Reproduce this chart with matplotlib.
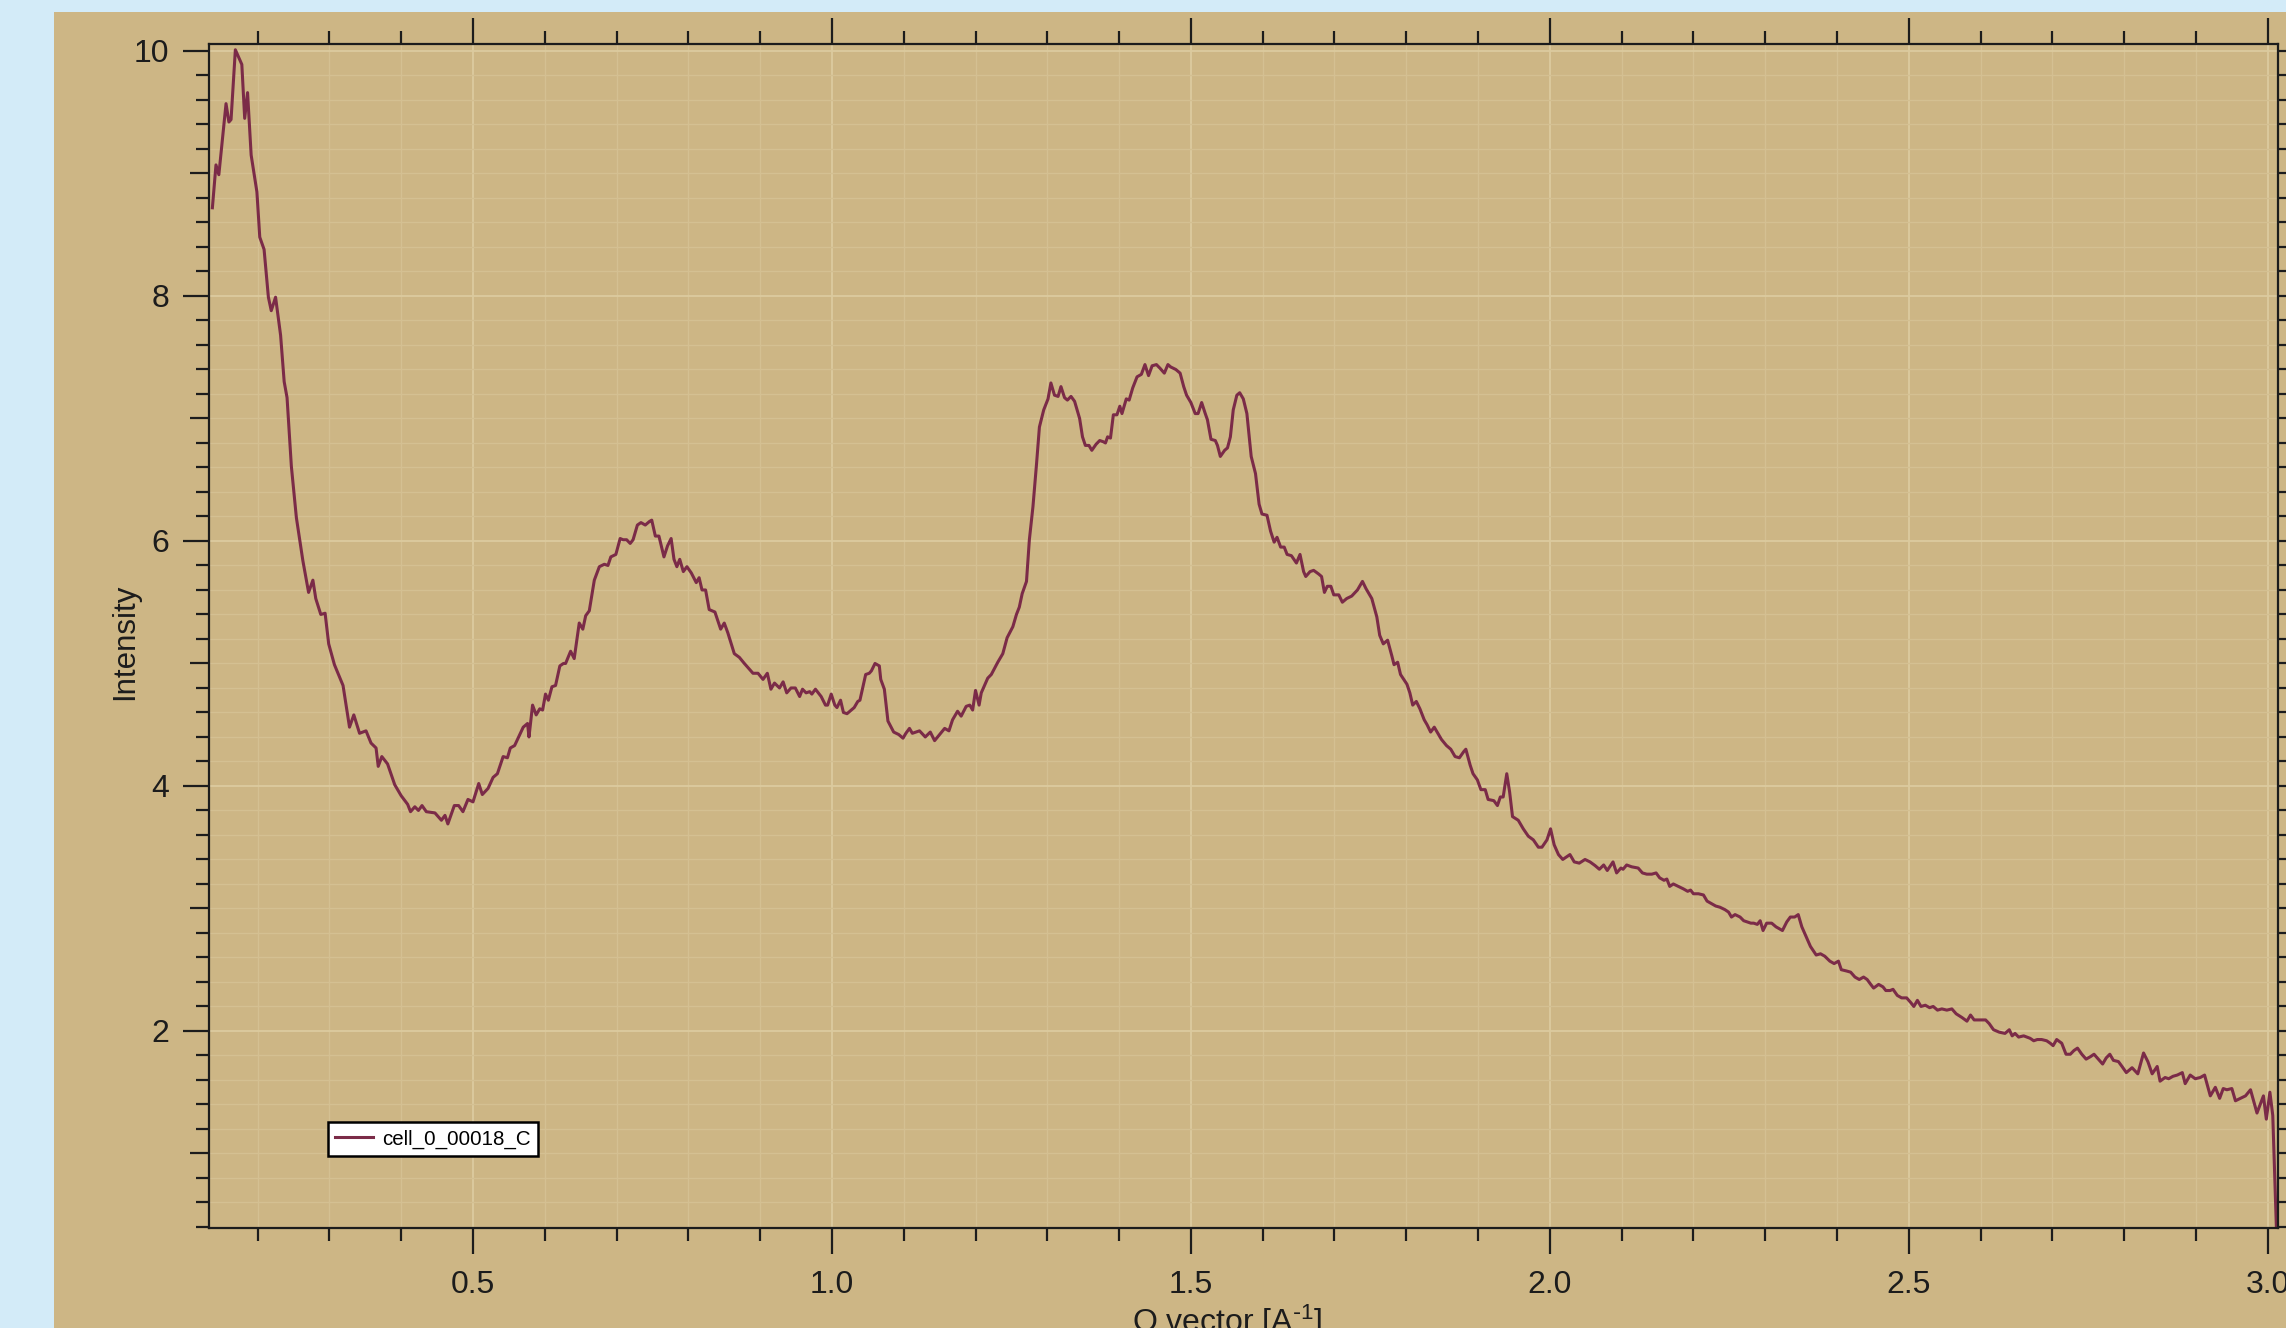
import numpy as np
import matplotlib
matplotlib.use("Agg")
import matplotlib.pyplot as plt
import matplotlib.ticker as ticker
from matplotlib.patches import Rectangle

plt.rcParams['font.family'] = ['Liberation Sans', 'DejaVu Sans']
plt.rcParams['mathtext.default'] = 'regular'

# scattering curve
q_vals = [
    0.137, 0.142, 0.146, 0.156, 0.160, 0.163, 0.169, 0.178, 0.182, 0.186,
    0.191, 0.199, 0.203, 0.209, 0.215, 0.219, 0.225, 0.232, 0.237, 0.241,
    0.247, 0.254, 0.263, 0.271, 0.277, 0.281, 0.288, 0.294, 0.299, 0.307,
    0.319, 0.328, 0.334, 0.342, 0.351, 0.358, 0.365, 0.368, 0.373, 0.381,
    0.391, 0.400, 0.409, 0.413, 0.419, 0.424, 0.429, 0.435, 0.447, 0.456,
    0.461, 0.465, 0.474, 0.480, 0.486, 0.493, 0.500, 0.508, 0.513, 0.521,
    0.528, 0.534, 0.542, 0.548, 0.552, 0.558, 0.570, 0.576, 0.578, 0.583,
    0.588, 0.593, 0.597, 0.601, 0.605, 0.610, 0.615, 0.621, 0.626, 0.629,
    0.636, 0.641, 0.648, 0.653, 0.657, 0.662, 0.669, 0.676, 0.683, 0.688,
    0.692, 0.699, 0.705, 0.709, 0.714, 0.719, 0.723, 0.729, 0.734, 0.740,
    0.746, 0.749, 0.754, 0.759, 0.766, 0.771, 0.776, 0.780, 0.784, 0.788,
    0.793, 0.798, 0.804, 0.811, 0.815, 0.819, 0.824, 0.829, 0.837, 0.845,
    0.850, 0.855, 0.864, 0.871, 0.878, 0.890, 0.897, 0.904, 0.910, 0.915,
    0.920, 0.927, 0.932, 0.937, 0.943, 0.949, 0.955, 0.959, 0.964, 0.969,
    0.972, 0.977, 0.985, 0.991, 0.994, 0.999, 1.004, 1.007, 1.012, 1.016,
    1.021, 1.027, 1.031, 1.036, 1.039, 1.047, 1.052, 1.055, 1.060, 1.066,
    1.068, 1.073, 1.078, 1.086, 1.093, 1.099, 1.103, 1.108, 1.112, 1.122,
    1.130, 1.137, 1.143, 1.150, 1.157, 1.163,
    1.168, 1.175, 1.180, 1.187, 1.192, 1.196, 1.200, 1.205, 1.208, 1.211,
    1.217, 1.222, 1.231, 1.238, 1.244, 1.252, 1.257, 1.261, 1.265, 1.271,
    1.275, 1.280, 1.285, 1.289, 1.295, 1.301, 1.305, 1.310, 1.315, 1.319,
    1.324, 1.328, 1.333, 1.338, 1.345, 1.349, 1.353, 1.358, 1.362, 1.368,
    1.373, 1.378, 1.381, 1.384, 1.388, 1.392, 1.397, 1.401, 1.404, 1.410,
    1.414, 1.419, 1.425, 1.431, 1.436, 1.441, 1.446, 1.452, 1.457, 1.463,
    1.468, 1.472, 1.479, 1.485, 1.490, 1.494, 1.500, 1.506, 1.510, 1.515,
    1.520, 1.523, 1.528, 1.534, 1.537, 1.541, 1.547, 1.551, 1.555, 1.559,
    1.564, 1.568, 1.573, 1.578, 1.584, 1.590, 1.595, 1.599,
    1.606, 1.611, 1.616, 1.620, 1.625, 1.630, 1.634, 1.640, 1.647, 1.652,
    1.657, 1.660, 1.666, 1.671, 1.678, 1.682, 1.686, 1.690, 1.695, 1.699,
    1.706, 1.711, 1.717, 1.724, 1.732, 1.739, 1.744, 1.752, 1.759, 1.763,
    1.768, 1.774, 1.780, 1.783, 1.788, 1.792, 1.801, 1.805, 1.809, 1.814,
    1.819, 1.825, 1.829, 1.834, 1.839, 1.845, 1.849, 1.856, 1.862, 1.868,
    1.874, 1.880, 1.883, 1.889, 1.893, 1.899, 1.904, 1.910, 1.914, 1.922,
    1.927, 1.931, 1.935, 1.940, 1.944, 1.948, 1.956, 1.963, 1.970, 1.977,
    1.984, 1.989, 1.996, 2.001, 2.006, 2.012, 2.018, 2.023, 2.028, 2.034,
    2.041, 2.049, 2.056, 2.063, 2.069, 2.075, 2.080, 2.088, 2.093, 2.099,
    2.102, 2.107, 2.114, 2.123, 2.129, 2.135, 2.142, 2.148, 2.153, 2.159,
    2.163, 2.167, 2.172, 2.179, 2.186, 2.192, 2.196, 2.200, 2.207, 2.214,
    2.219, 2.225, 2.231, 2.237, 2.244, 2.249, 2.253, 2.258, 2.265, 2.270,
    2.275, 2.280, 2.284, 2.289, 2.293, 2.297, 2.302, 2.309, 2.315, 2.321,
    2.324, 2.330, 2.335, 2.341, 2.346, 2.351, 2.357, 2.363, 2.371, 2.377,
    2.383, 2.390, 2.396, 2.402, 2.406, 2.413, 2.419, 2.425, 2.431, 2.437,
    2.442, 2.447, 2.451, 2.458, 2.464, 2.468, 2.474, 2.478, 2.484, 2.490,
    2.497, 2.503, 2.507, 2.512, 2.517, 2.523, 2.529, 2.534, 2.540, 2.546,
    2.553, 2.560, 2.566, 2.574, 2.581, 2.586, 2.591, 2.599, 2.607, 2.612,
    2.618, 2.626, 2.634, 2.640, 2.644, 2.648, 2.653, 2.660, 2.669, 2.674,
    2.679, 2.685, 2.692, 2.697, 2.701, 2.706, 2.713, 2.719, 2.725, 2.730,
    2.735, 2.741, 2.747, 2.753, 2.758, 2.764, 2.770, 2.775, 2.780, 2.785,
    2.792, 2.797, 2.803, 2.811, 2.819, 2.827, 2.833, 2.839, 2.846, 2.850,
    2.857, 2.862, 2.868, 2.874, 2.881, 2.885, 2.892, 2.899, 2.906, 2.912,
    2.920, 2.927, 2.933, 2.938, 2.943, 2.950, 2.955, 2.962, 2.969, 2.976,
    2.985, 2.994, 2.998, 3.003, 3.007, 3.012,
]
intensity = [
    8.72, 9.07, 8.99, 9.57, 9.42, 9.44, 10.01, 9.89, 9.45, 9.66,
    9.15, 8.85, 8.48, 8.38, 7.99, 7.88, 7.99, 7.68, 7.30, 7.17,
    6.61, 6.19, 5.84, 5.58, 5.68, 5.53, 5.40, 5.41, 5.16, 4.99,
    4.82, 4.48, 4.58, 4.43, 4.45, 4.35, 4.31, 4.16, 4.24, 4.18,
    4.01, 3.92, 3.85, 3.79, 3.83, 3.80, 3.84, 3.79, 3.78, 3.72,
    3.76, 3.69, 3.84, 3.84, 3.79, 3.89, 3.87, 4.02, 3.93, 3.98,
    4.07, 4.10, 4.24, 4.23, 4.31, 4.33, 4.48, 4.51, 4.40, 4.66,
    4.58, 4.63, 4.62, 4.75, 4.70, 4.81, 4.82, 4.98, 5.00, 5.00,
    5.10, 5.04, 5.33, 5.28, 5.39, 5.43, 5.68, 5.79, 5.81, 5.80,
    5.87, 5.89, 6.02, 6.01, 6.01, 5.98, 6.01, 6.13, 6.15, 6.13,
    6.16, 6.17, 6.04, 6.04, 5.87, 5.96, 6.02, 5.85, 5.79, 5.85,
    5.75, 5.79, 5.74, 5.66, 5.70, 5.60, 5.60, 5.44, 5.42, 5.28,
    5.33, 5.25, 5.08, 5.05, 5.00, 4.92, 4.92, 4.87, 4.92, 4.79,
    4.84, 4.80, 4.85, 4.76, 4.80, 4.80, 4.73, 4.79, 4.76, 4.77,
    4.75, 4.79, 4.73, 4.66, 4.66, 4.75, 4.66, 4.64, 4.70, 4.60,
    4.59, 4.62, 4.64, 4.69, 4.70, 4.91, 4.92, 4.94, 5.00, 4.98,
    4.87, 4.79, 4.53, 4.44, 4.42, 4.39, 4.43, 4.47, 4.43, 4.45,
    4.40, 4.44, 4.37, 4.42, 4.47, 4.45,
    4.54, 4.61, 4.57, 4.65, 4.66, 4.62, 4.78, 4.66, 4.76, 4.80,
    4.88, 4.91, 5.01, 5.08, 5.21, 5.30, 5.40, 5.46, 5.57, 5.67,
    6.01, 6.28, 6.63, 6.93, 7.07, 7.16, 7.29, 7.19, 7.18, 7.26,
    7.17, 7.15, 7.18, 7.14, 7.00, 6.85, 6.78, 6.78, 6.74, 6.79,
    6.82, 6.81, 6.80, 6.85, 6.84, 7.03, 7.03, 7.10, 7.04, 7.16,
    7.15, 7.25, 7.34, 7.36, 7.44, 7.35, 7.43, 7.44, 7.41, 7.37,
    7.44, 7.42, 7.40, 7.37, 7.26, 7.19, 7.13, 7.04, 7.04, 7.13,
    7.04, 6.99, 6.83, 6.82, 6.78, 6.69, 6.74, 6.76, 6.85, 7.07,
    7.19, 7.21, 7.16, 7.04, 6.69, 6.55, 6.30, 6.22,
    6.21, 6.08, 5.99, 6.03, 5.95, 5.95, 5.89, 5.88, 5.82, 5.89,
    5.75, 5.71, 5.75, 5.76, 5.73, 5.71, 5.58, 5.63, 5.63, 5.56,
    5.56, 5.50, 5.53, 5.55, 5.60, 5.67, 5.61, 5.53, 5.38, 5.23,
    5.16, 5.19, 5.06, 4.99, 5.01, 4.91, 4.83, 4.76, 4.66, 4.69,
    4.63, 4.54, 4.50, 4.44, 4.48, 4.42, 4.38, 4.33, 4.30, 4.24,
    4.23, 4.28, 4.30, 4.17, 4.10, 4.05, 3.97, 3.97, 3.89, 3.88,
    3.84, 3.91, 3.91, 4.10, 3.95, 3.75, 3.72, 3.65, 3.59, 3.56,
    3.50, 3.50, 3.56, 3.65, 3.52, 3.44, 3.40, 3.42, 3.44, 3.38,
    3.37, 3.40, 3.38, 3.35, 3.32, 3.355, 3.31, 3.38, 3.29, 3.33,
    3.32, 3.355, 3.34, 3.33, 3.29, 3.28, 3.28, 3.29, 3.25, 3.23,
    3.24, 3.18, 3.20, 3.18, 3.16, 3.14, 3.15, 3.12, 3.12, 3.11,
    3.06, 3.04, 3.02, 3.01, 2.99, 2.97, 2.93, 2.95, 2.93, 2.90,
    2.89, 2.88, 2.88, 2.87, 2.90, 2.82, 2.88, 2.88, 2.85, 2.83,
    2.82, 2.89, 2.93, 2.93, 2.95, 2.85, 2.77, 2.69, 2.62, 2.63,
    2.61, 2.57, 2.55, 2.57, 2.50, 2.49, 2.48, 2.44, 2.42, 2.44,
    2.42, 2.38, 2.35, 2.38, 2.36, 2.33, 2.33, 2.34, 2.29, 2.27,
    2.27, 2.23, 2.20, 2.25, 2.20, 2.21, 2.19, 2.20, 2.17, 2.18,
    2.17, 2.18, 2.14, 2.11, 2.08, 2.13, 2.09, 2.09, 2.09, 2.06,
    2.01, 1.99, 1.98, 2.01, 1.96, 1.98, 1.95, 1.96, 1.94, 1.92,
    1.93, 1.93, 1.92, 1.90, 1.88, 1.93, 1.90, 1.81, 1.81, 1.84,
    1.86, 1.81, 1.77, 1.79, 1.81, 1.77, 1.73, 1.78, 1.81, 1.76,
    1.75, 1.71, 1.66, 1.70, 1.65, 1.82, 1.75, 1.65, 1.71, 1.59,
    1.62, 1.61, 1.63, 1.64, 1.66, 1.57, 1.64, 1.61, 1.62, 1.64,
    1.47, 1.54, 1.45, 1.53, 1.52, 1.53, 1.43, 1.45, 1.47, 1.52,
    1.33, 1.47, 1.28, 1.50, 1.31, 0.40,
]
series_name = "cell_0_00018_C"

W, H = 2286, 1328
tan = '#cdb685'
sky = '#d3ebf8'
wine = '#7b2b48'
ink = '#1c1c1c'

fig = plt.figure(figsize=(W / 100, H / 100), dpi=100)
fig.patch.set_facecolor(sky)
fig.add_artist(Rectangle((54 / W, 0), 1, 1 - 12 / H, transform=fig.transFigure,
                         facecolor=tan, edgecolor='none', zorder=-5))

left, right = 209.3 / W, 2278.3 / W
bottom, top = 1 - 1228.3 / H, 1 - 44 / H
ax = fig.add_axes([left, bottom, right - left, top - bottom])
ax.set_facecolor(tan)

ax.plot(q_vals, intensity, color=wine, lw=2.2, label=series_name)

ax.set_xlim(0.1327, 3.0147)
ax.set_ylim(0.389, 10.057)

ax.xaxis.set_major_locator(ticker.MultipleLocator(0.5))
ax.xaxis.set_minor_locator(ticker.MultipleLocator(0.1))
ax.yaxis.set_major_locator(ticker.MultipleLocator(2))
ax.yaxis.set_minor_locator(ticker.MultipleLocator(0.2))
ax.xaxis.set_major_formatter(ticker.FormatStrFormatter('%.1f'))
ax.yaxis.set_major_formatter(ticker.FormatStrFormatter('%d'))

ax.set_axisbelow(True)
ax.grid(which='major', color='#dccb9f', lw=1.3)
ax.grid(which='minor', color='#d4c092', lw=1.0)

for s in ax.spines.values():
    s.set_linewidth(1.6)
    s.set_color(ink)

ax.tick_params(which='both', direction='out', top=True, right=True,
               labeltop=False, labelright=False, color=ink, width=1.6)
ax.tick_params(which='major', length=18.7, labelsize=23, labelcolor=ink)
ax.tick_params(axis='y', which='major', pad=10)
ax.tick_params(axis='x', which='major', pad=11)
ax.tick_params(which='minor', length=9.6)

ax.set_xlabel('Q vector [A$^{\\text{-}1}$]', fontsize=23, color=ink)
ax.xaxis.set_label_coords(0.492, -0.0625)
ax.set_ylabel('Intensity', fontsize=22.5, color=ink)
ax.yaxis.set_label_coords(-0.0335, 0.495)

leg = ax.legend(loc='lower left', bbox_to_anchor=(0.0574, 0.061), borderaxespad=0,
                fontsize=14.8, fancybox=False, edgecolor='black', facecolor='white',
                framealpha=1, handlelength=1.85, handletextpad=0.45, borderpad=0.35)
leg.get_frame().set_linewidth(1.8)

# odd integers on the y axis get a medium tick
fig.canvas.draw()
for t, v in zip(ax.yaxis.get_minor_ticks(), ax.yaxis.get_minorticklocs()):
    if abs(v - round(v)) < 1e-6 and int(round(v)) % 2 == 1:
        t.tick1line.set_markersize(13.7)
        t.tick2line.set_markersize(13.7)

fig.savefig('out.png', dpi=100, facecolor=fig.get_facecolor())
